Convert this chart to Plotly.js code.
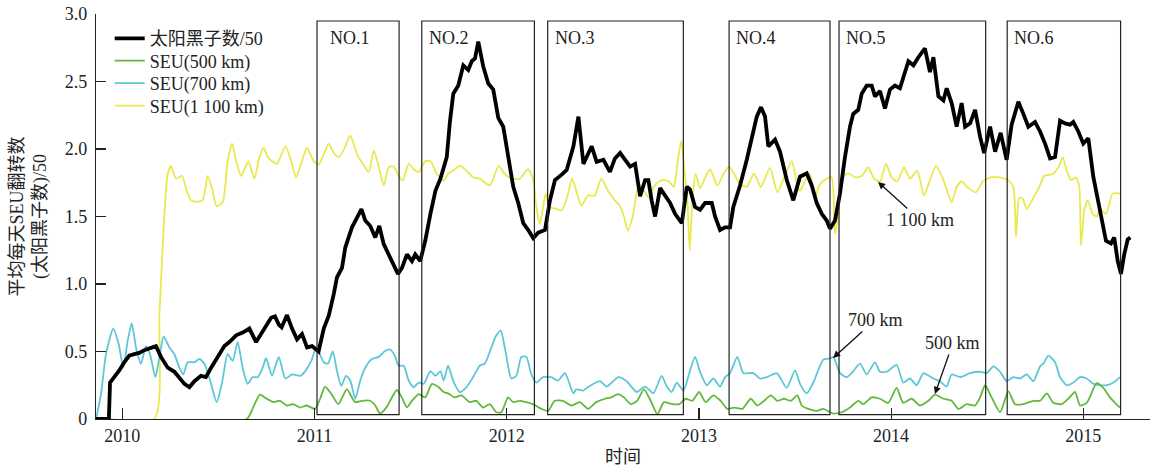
<!DOCTYPE html>
<html>
<head>
<meta charset="utf-8">
<script src="https://cdn.plot.ly/plotly-3.0.1.min.js"></script>
<style>html,body{margin:0;padding:0;background:#fff;}#chart{width:1160px;height:468px;}</style>
</head>
<body>
<div id="chart"></div>
<script>
// ---- data: [decimal year, value] ----
const sunspot = [
[2009.863,0],[2009.930,0],[2009.936,0.27],[2009.958,0.31],[2009.984,0.36],[2010.010,0.42],[2010.036,0.47],[2010.062,0.48],[2010.088,0.49],[2010.114,0.51],[2010.140,0.52],[2010.175,0.54],[2010.201,0.46],[2010.236,0.38],[2010.271,0.35],[2010.297,0.30],[2010.323,0.26],[2010.349,0.235],[2010.375,0.28],[2010.409,0.32],[2010.435,0.31],[2010.462,0.38],[2010.496,0.46],[2010.531,0.54],[2010.557,0.57],[2010.592,0.62],[2010.626,0.64],[2010.661,0.67],[2010.696,0.57],[2010.730,0.65],[2010.751,0.70],[2010.774,0.75],[2010.794,0.76],[2010.814,0.70],[2010.829,0.68],[2010.857,0.77],[2010.883,0.67],[2010.909,0.59],[2010.935,0.63],[2010.961,0.53],[2010.987,0.54],
[2011.021,0.50],[2011.048,0.67],[2011.074,0.765],[2011.100,0.925],[2011.117,1.05],[2011.143,1.12],[2011.160,1.27],[2011.195,1.42],[2011.221,1.49],[2011.244,1.555],[2011.264,1.47],[2011.290,1.43],[2011.316,1.345],[2011.337,1.43],[2011.360,1.295],[2011.386,1.22],[2011.412,1.135],[2011.434,1.075],[2011.455,1.12],[2011.481,1.22],[2011.507,1.17],[2011.524,1.22],[2011.550,1.17],[2011.576,1.32],[2011.603,1.52],[2011.629,1.69],[2011.655,1.78],[2011.688,1.94],[2011.705,2.21],[2011.722,2.41],[2011.748,2.47],[2011.774,2.62],[2011.800,2.585],[2011.818,2.65],[2011.835,2.67],[2011.852,2.795],[2011.878,2.61],[2011.904,2.485],[2011.930,2.44],[2011.956,2.23],[2011.982,2.165],
[2012.008,1.94],[2012.034,1.72],[2012.060,1.60],[2012.086,1.45],[2012.112,1.40],[2012.138,1.34],[2012.164,1.38],[2012.199,1.40],[2012.225,1.62],[2012.251,1.77],[2012.286,1.81],[2012.312,1.845],[2012.347,2.02],[2012.373,2.24],[2012.399,1.89],[2012.416,1.94],[2012.442,2.02],[2012.468,1.905],[2012.503,1.92],[2012.537,1.83],[2012.563,1.93],[2012.590,1.97],[2012.616,1.92],[2012.642,1.87],[2012.668,1.89],[2012.694,1.65],[2012.720,1.77],[2012.737,1.77],[2012.754,1.62],[2012.772,1.50],[2012.798,1.71],[2012.824,1.65],[2012.850,1.60],[2012.876,1.52],[2012.911,1.45],[2012.937,1.72],[2012.954,1.70],[2012.980,1.57],
[2013.006,1.55],[2013.032,1.60],[2013.067,1.60],[2013.084,1.50],[2013.110,1.40],[2013.136,1.42],[2013.162,1.42],[2013.179,1.57],[2013.214,1.73],[2013.249,1.92],[2013.283,2.12],[2013.301,2.24],[2013.323,2.31],[2013.344,2.24],[2013.361,2.02],[2013.396,2.07],[2013.422,1.98],[2013.457,1.77],[2013.491,1.62],[2013.526,1.795],[2013.561,1.82],[2013.587,1.73],[2013.613,1.60],[2013.639,1.52],[2013.665,1.47],[2013.682,1.41],[2013.708,1.47],[2013.734,1.67],[2013.760,1.94],[2013.786,2.165],[2013.803,2.26],[2013.829,2.29],[2013.847,2.41],[2013.873,2.47],[2013.899,2.47],[2013.916,2.39],[2013.942,2.43],[2013.968,2.30],[2013.994,2.44],
[2014.020,2.47],[2014.046,2.45],[2014.072,2.56],[2014.090,2.65],[2014.116,2.62],[2014.142,2.68],[2014.176,2.745],[2014.202,2.57],[2014.220,2.68],[2014.246,2.39],[2014.272,2.36],[2014.289,2.45],[2014.315,2.34],[2014.341,2.165],[2014.367,2.34],[2014.385,2.165],[2014.411,2.19],[2014.437,2.29],[2014.463,2.09],[2014.484,1.97],[2014.515,2.165],[2014.541,1.98],[2014.570,2.12],[2014.601,1.92],[2014.627,2.18],[2014.662,2.35],[2014.688,2.26],[2014.714,2.165],[2014.749,2.20],[2014.775,2.13],[2014.801,2.04],[2014.827,1.93],[2014.853,1.94],[2014.879,2.21],[2014.905,2.19],[2014.931,2.18],[2014.948,2.20],[2014.974,2.13],
[2015.000,2.04],[2015.026,2.08],[2015.052,1.795],[2015.078,1.60],[2015.104,1.40],[2015.118,1.32],[2015.144,1.30],[2015.161,1.345],[2015.179,1.17],[2015.196,1.075],[2015.213,1.22],[2015.231,1.33],[2015.245,1.345]
];

const seu500 = [
[2009.863,0],[2010.647,0],[2010.682,0.09],[2010.716,0.18],[2010.751,0.15],[2010.786,0.125],[2010.821,0.135],[2010.855,0.10],[2010.890,0.11],[2010.925,0.085],[2010.959,0.10],[2011.003,0.075],[2011.029,0.15],[2011.055,0.24],[2011.090,0.18],[2011.124,0.11],[2011.168,0.22],[2011.211,0.125],[2011.246,0.135],[2011.289,0.135],[2011.316,0.10],[2011.341,0.04],[2011.376,0.09],[2011.428,0.215],[2011.454,0.16],[2011.481,0.087],[2011.507,0.135],[2011.542,0.185],[2011.576,0.16],[2011.611,0.26],[2011.646,0.235],[2011.672,0.20],[2011.695,0.19],[2011.729,0.16],[2011.764,0.175],[2011.808,0.125],[2011.842,0.135],[2011.877,0.085],[2011.912,0.11],[2011.946,0.05],[2011.972,0.05],
[2012.007,0.16],[2012.033,0.125],[2012.068,0.135],[2012.102,0.125],[2012.137,0.11],[2012.180,0.075],[2012.215,0.06],[2012.250,0.135],[2012.293,0.135],[2012.336,0.10],[2012.380,0.125],[2012.423,0.075],[2012.466,0.125],[2012.510,0.15],[2012.544,0.16],[2012.579,0.185],[2012.610,0.16],[2012.645,0.11],[2012.679,0.135],[2012.714,0.22],[2012.749,0.135],[2012.784,0.035],[2012.818,0.125],[2012.862,0.11],[2012.897,0.11],[2012.931,0.15],[2012.966,0.135],
[2013.001,0.20],[2013.035,0.125],[2013.075,0.175],[2013.113,0.135],[2013.148,0.075],[2013.183,0.085],[2013.226,0.075],[2013.270,0.15],[2013.304,0.10],[2013.339,0.135],[2013.374,0.175],[2013.408,0.135],[2013.443,0.15],[2013.478,0.135],[2013.512,0.175],[2013.535,0.10],[2013.569,0.075],[2013.613,0.06],[2013.647,0.075],[2013.699,0.04],[2013.743,0.05],[2013.786,0.085],[2013.829,0.135],[2013.855,0.11],[2013.899,0.16],[2013.942,0.15],[2013.985,0.12],
[2014.029,0.23],[2014.063,0.12],[2014.107,0.15],[2014.150,0.10],[2014.194,0.135],[2014.228,0.18],[2014.272,0.15],[2014.315,0.135],[2014.350,0.075],[2014.393,0.11],[2014.437,0.10],[2014.463,0.16],[2014.489,0.25],[2014.523,0.16],[2014.567,0.05],[2014.610,0.205],[2014.645,0.11],[2014.688,0.11],[2014.740,0.135],[2014.775,0.135],[2014.810,0.19],[2014.844,0.12],[2014.888,0.11],[2014.922,0.15],[2014.957,0.20],[2014.983,0.10],
[2015.018,0.12],[2015.070,0.265],[2015.104,0.23],[2015.139,0.16],[2015.165,0.12],[2015.191,0.085]
];

const seu700 = [
[2009.863,0],[2009.889,0.185],[2009.915,0.48],[2009.953,0.67],[2009.981,0.555],[2010.005,0.38],[2010.028,0.58],[2010.049,0.71],[2010.071,0.53],[2010.097,0.41],[2010.123,0.54],[2010.144,0.48],[2010.172,0.31],[2010.193,0.46],[2010.215,0.61],[2010.245,0.53],[2010.271,0.48],[2010.297,0.38],[2010.317,0.33],[2010.340,0.42],[2010.375,0.42],[2010.401,0.445],[2010.427,0.41],[2010.462,0.26],[2010.491,0.125],[2010.519,0.27],[2010.548,0.48],[2010.574,0.43],[2010.600,0.57],[2010.626,0.38],[2010.652,0.26],[2010.678,0.31],[2010.704,0.31],[2010.730,0.38],[2010.748,0.45],[2010.779,0.32],[2010.814,0.46],[2010.848,0.30],[2010.883,0.33],[2010.926,0.32],[2010.952,0.355],[2010.983,0.43],
[2011.010,0.53],[2011.048,0.42],[2011.070,0.41],[2011.095,0.50],[2011.117,0.355],[2011.139,0.245],[2011.164,0.32],[2011.186,0.285],[2011.212,0.15],[2011.238,0.285],[2011.264,0.38],[2011.299,0.445],[2011.334,0.46],[2011.368,0.505],[2011.394,0.515],[2011.417,0.47],[2011.438,0.395],[2011.464,0.395],[2011.490,0.285],[2011.516,0.235],[2011.542,0.27],[2011.568,0.26],[2011.603,0.355],[2011.629,0.32],[2011.655,0.355],[2011.672,0.285],[2011.695,0.395],[2011.721,0.285],[2011.755,0.20],[2011.790,0.235],[2011.825,0.31],[2011.860,0.395],[2011.886,0.41],[2011.920,0.53],[2011.946,0.62],[2011.969,0.655],[2011.993,0.505],
[2012.024,0.30],[2012.050,0.32],[2012.076,0.46],[2012.102,0.46],[2012.128,0.33],[2012.154,0.27],[2012.189,0.31],[2012.232,0.31],[2012.267,0.285],[2012.303,0.34],[2012.347,0.19],[2012.362,0.22],[2012.397,0.21],[2012.416,0.23],[2012.485,0.28],[2012.520,0.24],[2012.581,0.31],[2012.624,0.28],[2012.676,0.20],[2012.720,0.24],[2012.763,0.19],[2012.806,0.32],[2012.833,0.24],[2012.858,0.20],[2012.885,0.27],[2012.919,0.21],[2012.954,0.36],[2012.980,0.46],
[2013.006,0.35],[2013.041,0.25],[2013.075,0.30],[2013.110,0.24],[2013.136,0.31],[2013.162,0.34],[2013.200,0.46],[2013.231,0.34],[2013.283,0.34],[2013.318,0.30],[2013.353,0.31],[2013.405,0.34],[2013.457,0.23],[2013.500,0.36],[2013.526,0.26],[2013.561,0.19],[2013.595,0.27],[2013.647,0.44],[2013.682,0.45],[2013.699,0.46],[2013.734,0.34],[2013.769,0.31],[2013.795,0.34],[2013.838,0.41],[2013.873,0.33],[2013.916,0.42],[2013.942,0.35],[2013.977,0.35],
[2014.029,0.40],[2014.063,0.27],[2014.098,0.30],[2014.133,0.25],[2014.168,0.34],[2014.220,0.30],[2014.254,0.28],[2014.289,0.24],[2014.315,0.33],[2014.359,0.31],[2014.411,0.34],[2014.463,0.35],[2014.497,0.34],[2014.532,0.39],[2014.567,0.35],[2014.601,0.28],[2014.636,0.31],[2014.671,0.30],[2014.706,0.33],[2014.740,0.28],[2014.775,0.39],[2014.792,0.41],[2014.818,0.47],[2014.853,0.42],[2014.879,0.31],[2014.914,0.25],[2014.948,0.27],[2014.983,0.31],
[2015.018,0.30],[2015.052,0.26],[2015.087,0.25],[2015.122,0.25],[2015.157,0.27],[2015.191,0.31]
];

const seu1100 = [
[2009.863,0],[2010.166,0],[2010.193,0.78],[2010.219,1.52],[2010.236,1.815],[2010.253,1.875],[2010.279,1.78],[2010.311,1.80],[2010.335,1.69],[2010.357,1.62],[2010.392,1.61],[2010.418,1.62],[2010.444,1.80],[2010.470,1.69],[2010.491,1.575],[2010.522,1.605],[2010.548,1.91],[2010.571,2.04],[2010.592,1.91],[2010.618,1.80],[2010.635,1.85],[2010.656,1.91],[2010.687,1.78],[2010.713,1.94],[2010.734,2.01],[2010.757,1.94],[2010.779,1.91],[2010.805,1.89],[2010.848,2.02],[2010.879,1.91],[2010.904,1.79],[2010.935,1.91],[2010.961,2.01],[2010.996,1.91],
[2011.022,1.885],[2011.048,1.96],[2011.074,2.04],[2011.100,1.97],[2011.126,1.94],[2011.157,2.01],[2011.186,2.10],[2011.221,1.96],[2011.251,1.89],[2011.282,1.83],[2011.308,1.99],[2011.334,1.87],[2011.360,1.73],[2011.386,1.865],[2011.412,1.87],[2011.438,1.80],[2011.459,1.765],[2011.490,1.89],[2011.516,1.85],[2011.542,1.83],[2011.576,1.91],[2011.603,1.91],[2011.637,1.815],[2011.672,1.765],[2011.695,1.815],[2011.721,1.84],[2011.755,1.875],[2011.790,1.84],[2011.825,1.79],[2011.860,1.78],[2011.912,1.73],[2011.958,1.875],[2011.990,1.815],
[2012.024,1.78],[2012.068,1.78],[2012.111,1.85],[2012.137,1.78],[2012.154,1.57],[2012.172,1.445],[2012.189,1.57],[2012.203,1.67],[2012.224,1.57],[2012.250,1.56],[2012.284,1.545],[2012.310,1.62],[2012.340,1.78],[2012.362,1.69],[2012.388,1.58],[2012.423,1.655],[2012.458,1.655],[2012.492,1.78],[2012.527,1.69],[2012.562,1.62],[2012.588,1.58],[2012.610,1.50],[2012.631,1.395],[2012.654,1.49],[2012.688,1.74],[2012.714,1.69],[2012.740,1.64],[2012.766,1.72],[2012.792,1.76],[2012.818,1.77],[2012.844,1.76],[2012.870,1.72],[2012.888,1.89],[2012.908,2.06],[2012.923,1.87],[2012.940,1.62],[2012.952,1.25],[2012.966,1.62],[2012.983,1.815],
[2013.006,1.71],[2013.027,1.77],[2013.058,1.85],[2013.096,1.73],[2013.127,1.815],[2013.157,1.87],[2013.183,1.815],[2013.214,1.74],[2013.249,1.72],[2013.287,1.82],[2013.322,1.72],[2013.370,1.86],[2013.408,1.68],[2013.443,1.79],[2013.483,1.91],[2013.512,1.73],[2013.526,1.69],[2013.552,1.765],[2013.578,1.815],[2013.604,1.64],[2013.630,1.74],[2013.665,1.78],[2013.691,1.79],[2013.708,1.37],[2013.725,1.52],[2013.748,1.79],[2013.777,1.82],[2013.812,1.79],[2013.847,1.80],[2013.881,1.865],[2013.911,1.78],[2013.942,1.76],[2013.973,1.89],
[2014.003,1.79],[2014.032,1.76],[2014.067,1.865],[2014.098,1.78],[2014.136,1.84],[2014.171,1.655],[2014.202,1.77],[2014.234,1.875],[2014.272,1.77],[2014.315,1.605],[2014.341,1.72],[2014.367,1.76],[2014.402,1.71],[2014.442,1.68],[2014.477,1.76],[2014.520,1.79],[2014.563,1.79],[2014.607,1.77],[2014.636,1.72],[2014.650,1.345],[2014.667,1.64],[2014.685,1.63],[2014.706,1.555],[2014.737,1.63],[2014.771,1.72],[2014.797,1.80],[2014.841,1.815],[2014.875,1.875],[2014.893,1.94],[2014.914,1.84],[2014.936,1.77],[2014.962,1.79],[2014.979,1.72],[2014.988,1.285],
[2015.005,1.545],[2015.023,1.62],[2015.049,1.52],[2015.070,1.50],[2015.087,1.555],[2015.118,1.52],[2015.153,1.67],[2015.191,1.67]
];

// analysis periods (decimal years)
const periodNames = ['NO.1','NO.2','NO.3','NO.4','NO.5','NO.6'];
const periodStart = [2011.013, 2011.558, 2012.213, 2013.157, 2013.729, 2014.604];
const periodEnd   = [2011.440, 2012.144, 2012.919, 2013.682, 2014.492, 2015.194];
const periodLow = 0.033, periodHigh = 2.948;

const yearTicks = [2010, 2011, 2012, 2013, 2014, 2015];
const yTickVals = [0, 0.5, 1.0, 1.5, 2.0, 2.5, 3.0];
const yTickText = ['0', '0.5', '1.0', '1.5', '2.0', '2.5', '3.0'];

// arrow labels: [text, year, value, ax, ay]
const callouts = [
  ['1 100 km', 2013.932, 1.756, 42, 38],
  ['700 km', 2013.698, 0.452, 42, -38],
  ['500 km', 2014.228, 0.185, 18, -51]
];

const FONT = '"Liberation Serif", "Times New Roman", "Noto Sans CJK SC", serif';
const col = s => s.map(p => p[0]);
const val = s => s.map(p => p[1]);

const traces = [
  {x: col(seu1100), y: val(seu1100), name: 'SEU(1 100 km)', mode: 'lines', legend: 'legend4',
   line: {color: '#e9e94e', width: 1.8, shape: 'spline', smoothing: 0.6}},
  {x: col(seu700), y: val(seu700), name: 'SEU(700 km)', mode: 'lines', legend: 'legend3',
   line: {color: '#5cc7d6', width: 1.8, shape: 'spline', smoothing: 0.6}},
  {x: col(seu500), y: val(seu500), name: 'SEU(500 km)', mode: 'lines', legend: 'legend2',
   line: {color: '#62b83c', width: 1.8, shape: 'spline', smoothing: 0.6}},
  {x: col(sunspot), y: val(sunspot), name: '太阳黑子数/50', mode: 'lines', legend: 'legend',
   line: {color: '#000000', width: 3.8}}
];

const shapes = periodStart.map((s, i) => ({
  type: 'rect', xref: 'x', yref: 'y', x0: s, x1: periodEnd[i], y0: periodLow, y1: periodHigh,
  line: {color: '#222', width: 1.2}, fillcolor: 'rgba(0,0,0,0)', layer: 'above'
}));

const annotations = periodNames.map((n, i) => ({
  text: n, xref: 'x', yref: 'y', x: periodStart[i], y: periodHigh, xanchor: 'left', yanchor: 'top',
  xshift: i === 0 ? 11 : 5, yshift: -5, showarrow: false, font: {family: FONT, size: 18, color: '#222'}
})).concat(callouts.map(c => ({
  text: c[0], xref: 'x', yref: 'y', x: c[1], y: c[2], ax: c[3], ay: c[4],
  showarrow: true, arrowhead: 2, arrowsize: 1.1, arrowwidth: 1.3, arrowcolor: '#111', standoff: 0,
  font: {family: FONT, size: 18, color: '#222'}
})));

const legendBase = {x: 0.013, xanchor: 'left', yanchor: 'top', bgcolor: 'rgba(0,0,0,0)',
  font: {family: FONT, size: 18, color: '#222'}, itemwidth: 30};
const legendTops = [0.985, 0.9296, 0.8741, 0.8186];

const layout = {
  width: 1160, height: 468,
  margin: {l: 96, r: 10, t: 14, b: 49},
  paper_bgcolor: '#fff', plot_bgcolor: '#fff',
  font: {family: FONT, size: 18, color: '#222'},
  showlegend: true,
  legend:  Object.assign({}, legendBase, {y: legendTops[0]}),
  legend2: Object.assign({}, legendBase, {y: legendTops[1]}),
  legend3: Object.assign({}, legendBase, {y: legendTops[2]}),
  legend4: Object.assign({}, legendBase, {y: legendTops[3]}),
  xaxis: {range: [2009.863, 2015.347], showgrid: false, zeroline: false, showline: true,
          linecolor: '#222', linewidth: 1.2, ticks: 'inside', ticklen: 11, tickwidth: 1.2, tickcolor: '#222',
          tickvals: yearTicks, ticktext: yearTicks.map(String),
          tickfont: {family: FONT, size: 18, color: '#222'},
          title: {text: '时间', font: {family: FONT, size: 18, color: '#222'}, standoff: 5}},
  yaxis: {range: [0, 3], showgrid: false, zeroline: false, showline: true,
          linecolor: '#222', linewidth: 1.2, ticks: 'inside', ticklen: 10, tickwidth: 1.2, tickcolor: '#222',
          tickvals: yTickVals, ticktext: yTickText, ticklabelstandoff: 4,
          tickfont: {family: FONT, size: 18, color: '#222'},
          title: {text: '平均每天SEU翻转数<br>(太阳黑子数)/50', font: {family: FONT, size: 18, color: '#222'}, standoff: 13}},
  shapes: shapes,
  annotations: annotations
};

Plotly.newPlot('chart', traces, layout, {displayModeBar: false, staticPlot: true});
</script>
</body>
</html>
